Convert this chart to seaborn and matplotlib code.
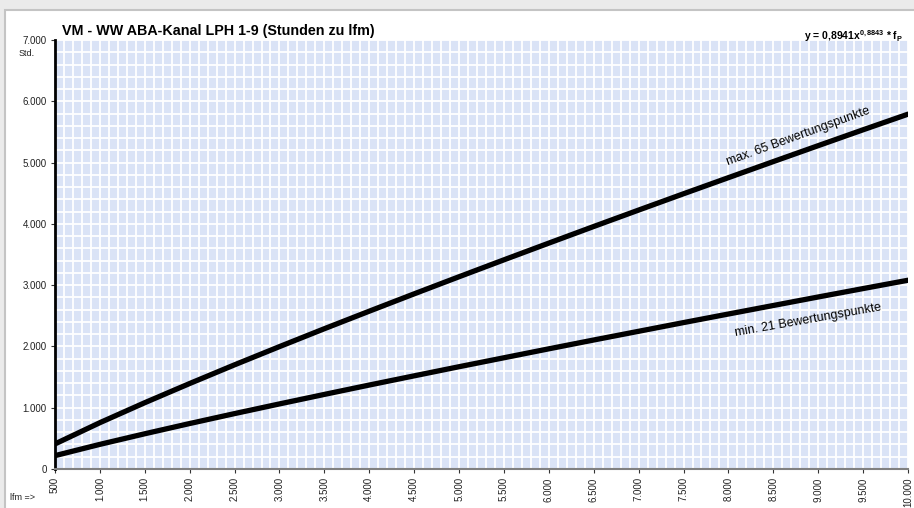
import matplotlib
matplotlib.use("Agg")
import matplotlib.pyplot as plt
from matplotlib.patches import FancyBboxPatch
from matplotlib.ticker import MultipleLocator, FixedLocator
import seaborn as sns
import pandas as pd

# values (lfm -> hours)
lfm = [500, 1000, 1500, 2000, 2500, 3000, 3500, 4000, 4500, 5000,
       5500, 6000, 6500, 7000, 7500, 8000, 8500, 9000, 9500, 10000]
hours_max = [409, 756, 1082, 1395, 1700, 1997, 2289, 2575, 2858, 3137,
             3413, 3686, 3957, 4225, 4491, 4754, 5016, 5276, 5535, 5790]
hours_min = [218, 402, 575, 742, 904, 1062, 1217, 1370, 1520, 1669,
             1815, 1961, 2105, 2247, 2389, 2529, 2668, 2807, 2944, 3080]
x_ticks = lfm
x_labels = ["500", "1.000", "1.500", "2.000", "2.500", "3.000", "3.500", "4.000",
            "4.500", "5.000", "5.500", "6.000", "6.500", "7.000", "7.500", "8.000",
            "8.500", "9.000", "9.500", "10.000"]
y_ticks = [0, 1000, 2000, 3000, 4000, 5000, 6000, 7000]
y_labels = ["0", "1.000", "2.000", "3.000", "4.000", "5.000", "6.000", "7.000"]

df = pd.DataFrame({"lfm": lfm * 2,
                   "std": hours_max + hours_min,
                   "kurve": ["max"] * len(lfm) + ["min"] * len(lfm)})

sns.set_theme(style="white")
plt.rcParams["font.family"] = ["Liberation Sans", "DejaVu Sans"]
plt.rcParams["text.color"] = "black"
plt.rcParams["mathtext.fontset"] = "custom"
plt.rcParams["mathtext.rm"] = "Liberation Sans"
plt.rcParams["mathtext.bf"] = "Liberation Sans:bold"

fig = plt.figure(figsize=(9.14, 5.08), dpi=100)
fig.patch.set_facecolor("#ebebeb")
panel = FancyBboxPatch((5 / 914, -0.02), 1.02, 498 / 508 + 0.02,
                       boxstyle="square,pad=0", transform=fig.transFigure,
                       facecolor="white", edgecolor="#c4c4c4", linewidth=1.5, zorder=-1)
fig.patches.append(panel)

ax = fig.add_axes([55 / 914, 39 / 508, 853 / 914, 429 / 508])
ax.set_facecolor("#dae3f6")

sns.lineplot(data=df, x="lfm", y="std", units="kurve", estimator=None,
             color="black", linewidth=3.8, ax=ax, zorder=3)

ax.set_xlim(500, 10000)
ax.set_ylim(0, 7000)
ax.xaxis.set_major_locator(FixedLocator(x_ticks))
ax.set_xticklabels(x_labels, rotation=90, fontsize=7, color="#222222")
ax.xaxis.set_minor_locator(MultipleLocator(100))
ax.yaxis.set_major_locator(FixedLocator(y_ticks))
ax.set_yticklabels(y_labels, fontsize=7, color="#222222")
ax.yaxis.set_minor_locator(MultipleLocator(200))
ax.grid(which="both", color="white", linewidth=1.3)
ax.set_axisbelow(True)
ax.tick_params(which="major", direction="out", length=3, width=0.8, pad=3,
               bottom=True, left=True, color="#333333")
ax.tick_params(which="minor", length=0)
ax.set_xlabel("")
ax.set_ylabel("")

for s in ["top", "right"]:
    ax.spines[s].set_visible(False)
ax.spines["left"].set_color("black")
ax.spines["left"].set_linewidth(2)
ax.spines["bottom"].set_color("#808080")
ax.spines["bottom"].set_linewidth(1.5)

fig.text(62 / 914, 1 - 35 / 508, "VM - WW ABA-Kanal LPH 1-9 (Stunden zu lfm)",
         fontsize=10.3, fontweight="bold", ha="left", va="baseline", color="black")
fig.text(903 / 914, 1 - 40 / 508, r"y = 0,8941x$^{\mathbf{0,8843}}$ * f$_{\mathbf{P}}$",
         fontsize=7.5, fontweight="bold", ha="right", va="baseline", color="black")
fig.text(27 / 914, 1 - 53 / 508, "Std.", fontsize=6.5, ha="center", va="center", color="#222222")
fig.text(10 / 914, 1 - 497 / 508, "lfm =>", fontsize=6.5, ha="left", va="center", color="#222222")

ax.text(8800, 5330, "max. 65 Bewertungspunkte", rotation=20, fontsize=9,
        ha="center", va="bottom", rotation_mode="anchor", color="black")
ax.text(8900, 2330, "min. 21 Bewertungspunkte", rotation=10, fontsize=9,
        ha="center", va="bottom", rotation_mode="anchor", color="black")

fig.savefig("out.png", dpi=100, facecolor=fig.get_facecolor())
